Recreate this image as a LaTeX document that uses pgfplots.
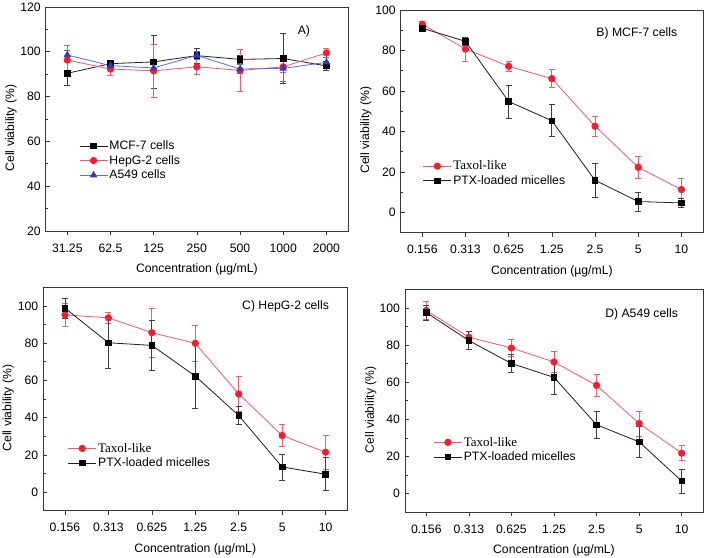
\documentclass[border=0pt]{standalone}
\usepackage{pgfplots}
\pgfplotsset{compat=1.18}
\usepackage{fontspec}
\setmainfont{Liberation Sans}
\newfontfamily\serif{Liberation Serif}
\definecolor{myred}{RGB}{255,25,45}
\definecolor{redline}{RGB}{255,85,110}
\definecolor{myblue}{RGB}{40,60,200}
\definecolor{blueline}{RGB}{90,110,215}
\definecolor{frame}{RGB}{55,55,55}
\definecolor{blk}{RGB}{30,30,30}
\pgfplotsset{
 panel/.style={
  scale only axis, anchor=south west,
  font=\fontsize{12.2}{14}\selectfont,
  /pgf/number format/assume math mode=true,
  xmin=-0.5, xmax=6.5, xtick={0,...,6},
  axis line style={frame, line width=0.9pt},
  tick align=inside, xtick pos=lower, ytick pos=left,
  major tick length=4pt, minor tick length=2.5pt,
  every tick/.style={frame, line width=0.7pt},
  x tick style={yshift=-4pt},
  minor y tick num=1,
  xticklabel style={yshift=-9pt},
  yticklabel style={xshift=-1.5pt},
  every axis x label/.style={at={(axis description cs:0.5,-0.172)}, anchor=center},
  every axis y label/.style={at={(axis description cs:-0.115,0.46)}, anchor=center, rotate=90},
  xlabel={Concentration (µg/mL)},
  ylabel={Cell viability (\%)},
  legend style={draw=none, fill=none, inner sep=0pt, row sep=1.2pt, anchor=north west,
    font=\fontsize{12.2}{14}\selectfont, nodes={inner sep=1.5pt}},
  legend cell align=left,
  legend image code/.code={\draw[mark repeat=2,mark phase=2] plot coordinates {(0pt,0pt) (14pt,0pt) (28pt,0pt)};},
  error bars/y dir=both, error bars/y explicit,
 },
 redser/.style={color=redline, line width=0.8pt, mark=*, mark size=3.2pt, mark options={fill=myred, draw=myred},
   error bars/error bar style={redline, line width=0.8pt},
   error bars/error mark options={rotate=90, mark size=3pt, line width=0.8pt, redline}},
 blkser/.style={color=blk, line width=0.8pt, mark=square*, mark size=2.8pt, mark options={fill=black, draw=black},
   error bars/error bar style={blk!85, line width=0.8pt},
   error bars/error mark options={rotate=90, mark size=3pt, line width=0.8pt, blk!85}},
 bluser/.style={color=blueline, line width=0.8pt, mark=triangle*, mark size=3.5pt, mark options={fill=myblue, draw=myblue},
   error bars/error bar style={blueline, line width=0.8pt},
   error bars/error mark options={rotate=90, mark size=3pt, line width=0.8pt, blueline}},
}
\begin{document}
\begin{tikzpicture}
\useasboundingbox (0,0) rectangle (709pt,557pt);
% ---------- A ----------
\begin{axis}[panel, at={(45.7pt,326pt)}, width=302.3pt, height=224pt,
  ymin=20, ymax=120, ytick={20,40,...,120},
  xticklabels={31.25,62.5,125,250,500,1000,2000},
  legend style={at={(rel axis cs:0.11,0.41)}}]
\addplot[blkser] table[x=x,y=y,y error=e]{
x y e
0 90.4 5.6
1 94.7 1.0
2 95.5 11.8
3 98.3 3.3
4 96.6 1.8
5 97.0 11.0
6 93.7 2.2
};
\addlegendentry{MCF-7 cells}
\addplot[redser] table[x=x,y=y,y error=e]{
x y e
0 96.3 6.6
1 92.3 2.7
2 91.5 11.7
3 93.3 3.4
4 91.7 9.4
5 93.3 2.5
6 99.5 2.0
};
\addlegendentry{HepG-2 cells}
\addplot[bluser] table[x=x,y=y,y error=e]{
x y e
0 98.6 2.2
1 93.8 1.2
2 92.8 2.0
3 98.4 2.0
4 92.3 2.0
5 92.6 6.0
6 95.3 2.0
};
\addlegendentry{A549 cells}
\node[font=\fontsize{12.2}{14}\selectfont] at (rel axis cs:0.854,0.893) {A)};
\end{axis}
% ---------- B ----------
\begin{axis}[panel, at={(400.7pt,324.3pt)}, width=302.3pt, height=222.7pt,
  ymin=-10, ymax=100, ytick={0,20,...,100},
  xticklabels={0.156,0.313,0.625,1.25,2.5,5,10},
  legend style={at={(rel axis cs:0.073,0.33)}}]
\addplot[redser] table[x=x,y=y,y error=e]{
x y e
0 93.0 1.5
1 80.7 6.0
2 72.2 2.4
3 66.1 4.5
4 42.6 4.9
5 22.3 5.3
6 11.3 5.6
};
\addlegendentry{\serif\fontsize{13}{14}\selectfont Taxol-like}
\addplot[blkser] table[x=x,y=y,y error=e]{
x y e
0 91.0 1.0
1 84.5 2.1
2 54.8 8.2
3 45.3 7.9
4 15.9 8.4
5 5.4 4.7
6 4.7 2.0
};
\addlegendentry{PTX-loaded micelles}
\node[font=\fontsize{12.2}{14}\selectfont] at (rel axis cs:0.781,0.895) {B) MCF-7 cells};
\end{axis}
% ---------- C ----------
\begin{axis}[panel, at={(43.3pt,46.3pt)}, width=304pt, height=223.4pt,
  ymin=-10, ymax=110, ytick={0,20,...,100},
  xticklabels={0.156,0.313,0.625,1.25,2.5,5,10},
  legend style={at={(rel axis cs:0.080,0.31)}}]
\addplot[redser] table[x=x,y=y,y error=e]{
x y e
0 95.2 6.2
1 93.6 2.9
2 85.6 13.2
3 79.9 9.7
4 52.7 9.5
5 30.4 5.9
6 21.4 9.2
};
\addlegendentry{\serif\fontsize{13}{14}\selectfont Taxol-like}
\addplot[blkser] table[x=x,y=y,y error=e]{
x y e
0 98.8 5.5
1 80.2 14.0
2 78.8 13.4
3 62.3 17.4
4 41.1 4.7
5 13.5 7.0
6 9.6 8.9
};
\addlegendentry{PTX-loaded micelles}
\node[font=\fontsize{12.2}{14}\selectfont] at (rel axis cs:0.797,0.916) {C) HepG-2 cells};
\end{axis}
% ---------- D ----------
\begin{axis}[panel, at={(405pt,44.7pt)}, width=298pt, height=223pt,
  ymin=-10, ymax=110, ytick={0,20,...,100},
  xticklabels={0.156,0.313,0.625,1.25,2.5,5,10},
  legend style={at={(rel axis cs:0.095,0.345)}}]
\addplot[redser] table[x=x,y=y,y error=e]{
x y e
0 98.6 4.7
1 84.2 3.0
2 78.4 4.6
3 70.9 5.5
4 58.3 6.1
5 37.8 6.7
6 21.8 4.1
};
\addlegendentry{\serif\fontsize{13}{14}\selectfont Taxol-like}
\addplot[blkser] table[x=x,y=y,y error=e]{
x y e
0 97.5 4.0
1 82.4 5.0
2 70.1 4.7
3 62.6 9.2
4 37.1 7.3
5 27.9 8.2
6 6.8 6.4
};
\addlegendentry{PTX-loaded micelles}
\node[font=\fontsize{12.2}{14}\selectfont] at (rel axis cs:0.794,0.889) {D) A549 cells};
\end{axis}
\end{tikzpicture}
\end{document}
